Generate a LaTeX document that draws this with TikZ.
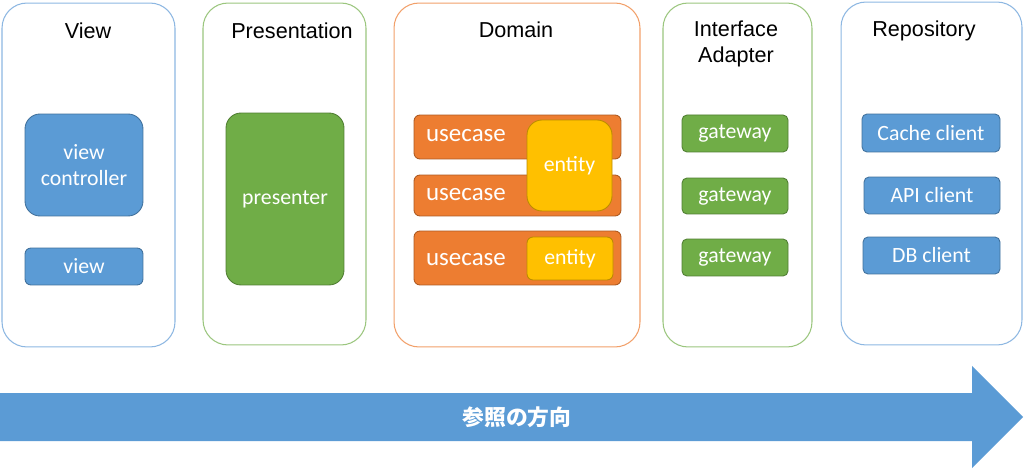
\documentclass[tikz,border=0pt]{standalone}
\usepackage{fontspec}
\setmainfont{Carlito}
\newfontfamily\titlefont{Liberation Sans}
\newfontfamily\jpfont{Noto Sans CJK JP}
\usetikzlibrary{positioning}

\definecolor{blueFill}{HTML}{5B9BD5}
\definecolor{blueLine}{HTML}{41719C}
\definecolor{greenFill}{HTML}{70AD47}
\definecolor{greenLine}{HTML}{507E32}
\definecolor{orangeFill}{HTML}{ED7D31}
\definecolor{orangeLine}{HTML}{AE5A21}
\definecolor{yellowFill}{HTML}{FFC000}
\definecolor{yellowLine}{HTML}{BC8C00}
\definecolor{bluePanel}{HTML}{8DB7E2}
\definecolor{greenPanel}{HTML}{9BC67E}
\definecolor{orangePanel}{HTML}{F2A06A}

\tikzset{
	panel/.style={shape=rectangle, rounded corners=0.5cm, line width=0.6pt, fill=white, inner sep=0pt},
	paneltitle/.style={font=\titlefont\fontsize{12.3}{14.5}\selectfont, align=center, inner sep=0pt},
	box/.style={shape=rectangle, line width=0.5pt, inner sep=0pt, text=white, align=center, font=\fontsize{12.4}{14.6}\selectfont},
	bluebox/.style={box, fill=blueFill, draw=blueLine},
	greenbox/.style={box, fill=greenFill, draw=greenLine},
	orangebox/.style={box, fill=orangeFill, draw=orangeLine, rounded corners=0.12cm},
	yellowbox/.style={box, fill=yellowFill, draw=yellowLine}
}

\begin{document}
\begin{tikzpicture}[x=0.02cm, y=-0.02cm]
			\useasboundingbox (0, 0) rectangle (1024, 469);
			% layers
			\node[panel, draw=bluePanel, minimum width=3.46cm, minimum height=6.88cm](PView) at (88.5, 175){};
			\node[panel, draw=greenPanel, minimum width=3.26cm, minimum height=6.84cm](PPres) at (284.5, 174){};
			\node[panel, draw=orangePanel, minimum width=4.92cm, minimum height=6.88cm](PDom) at (517, 175){};
			\node[panel, draw=greenPanel, minimum width=2.98cm, minimum height=6.88cm](PIf) at (737.5, 175){};
			\node[panel, draw=bluePanel, minimum width=3.62cm, minimum height=6.86cm](PRepo) at (931.5, 173.5){};
			\node[paneltitle](TView) at (88, 31){View};
			\node[paneltitle](TPres) at (292, 31){Presentation};
			\node[paneltitle](TDom) at (516, 30){Domain};
			\node[paneltitle](TIf) at (736, 44){Interface\\Adapter};
			\node[paneltitle](TRepo) at (924, 31){Repository};
			% view
			\node[bluebox, rounded corners=0.3cm, minimum width=2.36cm, minimum height=2.04cm](VC) at (84, 165){view\\controller};
			\node[bluebox, rounded corners=0.12cm, minimum width=2.36cm, minimum height=0.74cm](V) at (84, 266.5){view};
			% presentation
			\node[greenbox, rounded corners=0.3cm, minimum width=2.36cm, minimum height=3.44cm](P) at (285, 199){presenter};
			% domain
			\node[orangebox, minimum width=4.14cm, minimum height=0.88cm](UC1) at (517.5, 137){};
			\node[orangebox, minimum width=4.14cm, minimum height=0.82cm](UC2) at (517.5, 195.5){};
			\node[orangebox, minimum width=4.14cm, minimum height=1.08cm](UC3) at (517.5, 258){};
			\node[box, font=\fontsize{14.2}{16}\selectfont](UC1t) at (466, 136){usecase};
			\node[box, font=\fontsize{14.2}{16}\selectfont](UC2t) at (466, 195){usecase};
			\node[box, font=\fontsize{14.2}{16}\selectfont](UC3t) at (466, 260){usecase};
			\node[yellowbox, rounded corners=0.3cm, minimum width=1.70cm, minimum height=1.82cm](E1) at (569.5, 165.5){entity};
			\node[yellowbox, rounded corners=0.12cm, minimum width=1.72cm, minimum height=0.86cm](E2) at (570, 258.5){entity};
			% interface adapter
			\node[greenbox, rounded corners=0.1cm, minimum width=2.12cm, minimum height=0.74cm](G1) at (735, 133.5){gateway};
			\node[greenbox, rounded corners=0.1cm, minimum width=2.12cm, minimum height=0.72cm](G2) at (735, 196){gateway};
			\node[greenbox, rounded corners=0.1cm, minimum width=2.12cm, minimum height=0.74cm](G3) at (735, 257.5){gateway};
			% repository
			\node[bluebox, rounded corners=0.1cm, minimum width=2.76cm, minimum height=0.76cm](CC) at (931, 133){Cache client};
			\node[bluebox, rounded corners=0.1cm, minimum width=2.72cm, minimum height=0.74cm](AC) at (932, 195.5){API client};
			\node[bluebox, rounded corners=0.1cm, minimum width=2.74cm, minimum height=0.74cm](DC) at (931.5, 255.5){DB client};
			% direction
			\fill[blueFill] (0, 393) -- (972, 393) -- (972, 366) -- (1023, 417) -- (972, 468) -- (972, 441) -- (0, 441) -- cycle;
			\node[text=white, inner sep=0pt, font=\jpfont\bfseries\fontsize{12.4}{14}\selectfont](Dir) at (517, 417){参照の方向};
		\end{tikzpicture}
\end{document}
